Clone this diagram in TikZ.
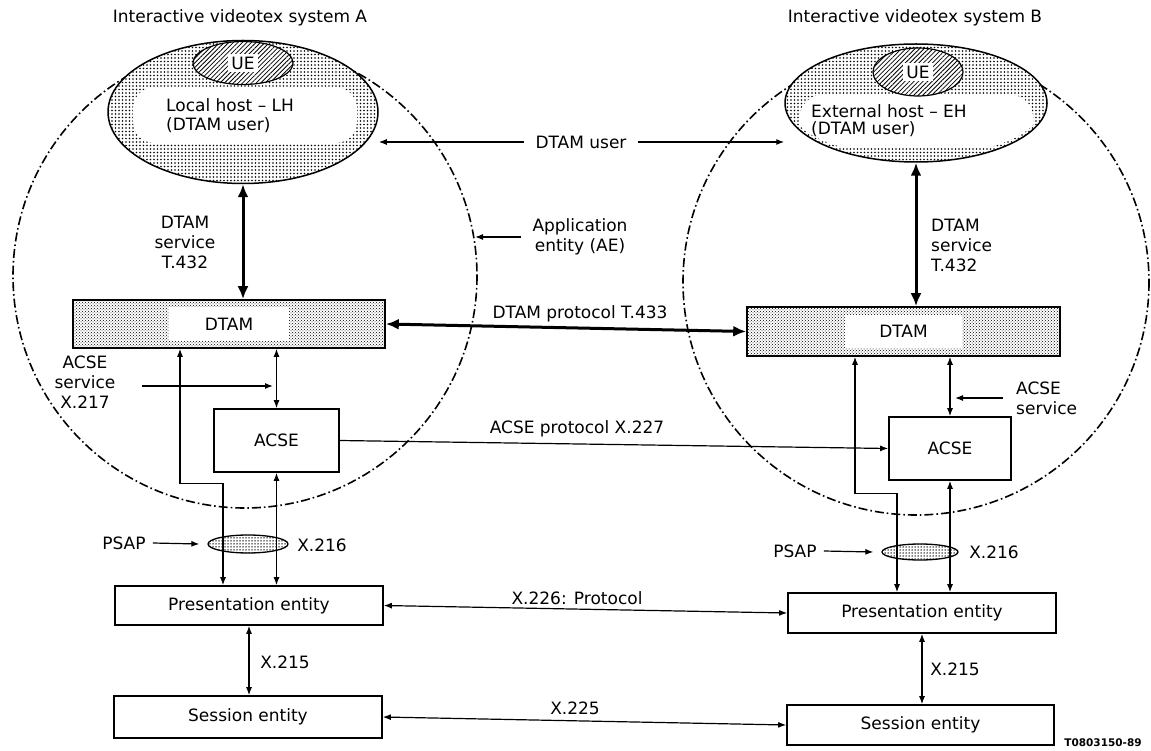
\documentclass[tikz,border=0pt]{standalone}
\usepackage{fontspec}
\setmainfont{DejaVu Sans}
\usetikzlibrary{arrows.meta,patterns,patterns.meta,shapes.geometric}
\begin{document}
\begin{tikzpicture}[x=1pt,y=-1pt,
  font=\fontsize{17}{20}\selectfont,
  aecircle/.style={line width=1.6pt, dash pattern=on 9pt off 3pt on 1.6pt off 3pt},
  hostell/.style={ellipse, draw, line width=1.5pt, preaction={fill=white},
     pattern={Dots[distance=3.5pt, radius=0.85pt]}},
  ueell/.style={ellipse, draw, line width=1.2pt, preaction={fill=white},
     pattern={Lines[angle=45, distance=3.2pt, line width=0.8pt]}},
  dtambox/.style={draw, line width=1.6pt, preaction={fill=white}, pattern=crosshatch dots},
  psapell/.style={ellipse, draw, line width=1.3pt, preaction={fill=white},
     pattern={Dots[distance=3pt, radius=0.75pt]}},
  entbox/.style={draw, line width=1.6pt, fill=white},
  arr/.style={line width=1.2pt, -{Latex[length=8pt,width=6pt]}},
  darr/.style={line width=1.2pt, {Latex[length=8pt,width=6pt]}-{Latex[length=8pt,width=6pt]}},
  tarr/.style={line width=3pt, {Latex[length=13pt,width=11pt]}-{Latex[length=13pt,width=11pt]}},
  lbl/.style={inner sep=1pt}
]
\useasboundingbox (0,0) rectangle (1151,751);

% application entity circles
\draw[aecircle] (245,276) circle[radius=232];
\draw[aecircle] (916,282) circle[radius=233];

% titles
\node[lbl] (titA) at (240,18) {Interactive videotex system A};
\node[lbl] (titB) at (915,18) {Interactive videotex system B};

% hosts
\node[hostell, minimum width=270pt, minimum height=143pt] (LH) at (243,112) {};
\begin{scope}
  \clip (243,116) ellipse[x radius=124, y radius=56];
  \fill[white, rounded corners=22pt] (133,87) rectangle (357,143);
\end{scope}
\node[ueell, minimum width=100pt, minimum height=43pt] (UEA) at (243,63) {};
\node[fill=white, inner sep=3pt] (UEAl) at (UEA.center) {UE};
\node[lbl, anchor=west, align=left, font=\fontsize{17}{19}\selectfont] (LHl) at (165,116) {Local host -- LH\\(DTAM user)};

\node[hostell, minimum width=262pt, minimum height=118pt] (EH) at (916,103) {};
\begin{scope}
  \clip (916,112) ellipse[x radius=122, y radius=44];
  \fill[white, rounded corners=22pt] (800,95) rectangle (1033,148);
\end{scope}
\node[ueell, minimum width=90pt, minimum height=48pt] (UEB) at (918,72) {};
\node[fill=white, inner sep=3pt] (UEBl) at (UEB.center) {UE};
\node[lbl, anchor=west, align=left, font=\fontsize{17}{17}\selectfont] (EHl) at (810,121) {External host -- EH\\(DTAM user)};

% DTAM user / AE labels
\node[lbl] (dtamuser) at (581,142) {DTAM user};
\draw[arr] ([xshift=-10pt]dtamuser.west) -- (dtamuser.west -| LH.east);
\draw[arr] ([xshift=10pt]dtamuser.east) -- (dtamuser.east -| EH.west);
\node[lbl, align=center] (AE) at (580,237) {Application\\entity (AE)};
\coordinate (AEtip) at (475,236);
\draw[arr] ([xshift=-10pt]AE.west) -- (AE.west -| AEtip);

% DTAM boxes
\node[dtambox, minimum width=312pt, minimum height=48pt] (dtamA) at (229,324) {};
\node[fill=white, minimum width=120pt, minimum height=33pt, inner sep=0pt] (dtamAl) at (dtamA.center) {DTAM};
\node[dtambox, minimum width=313pt, minimum height=49pt] (dtamB) at (903.5,331.5) {};
\node[fill=white, minimum width=117pt, minimum height=33pt, inner sep=0pt] (dtamBl) at (dtamB.center) {DTAM};

% DTAM service
\draw[tarr] (LH.south) -- (LH.south |- dtamA.north);
\node[lbl, align=center] (dsA) at (185,242) {DTAM\\service\\T.432};
\draw[tarr] (EH.south) -- (EH.south |- dtamB.north);
\node[lbl, anchor=west, align=left] (dsB) at (930,245) {DTAM\\service\\T.432};

% DTAM protocol
\draw[tarr] (dtamA.east) -- (dtamB.west);
\node[lbl] (dtamprot) at (580,314) {DTAM protocol T.433};

% ACSE boxes
\node[entbox, minimum width=125pt, minimum height=63pt] (acseA) at (276.5,440.5) {ACSE};
\node[entbox, minimum width=122pt, minimum height=63pt] (acseB) at (950,448.5) {ACSE};
\draw[darr] (acseA.north |- dtamA.south) -- (acseA.north);
\draw[darr] (acseB.north |- dtamB.south) -- (acseB.north);
\draw[arr] (acseA.east) -- (acseB.west);
\node[lbl] (acseprot) at (577,429) {ACSE protocol X.227};

% ACSE service labels
\node[lbl, align=center] (acsesA) at (85,382) {ACSE\\service\\X.217};
\coordinate (acsesAfrom) at (142,386);
\coordinate (acsesAto) at (273,386);
\draw[arr] (acsesAfrom) -- (acsesAto);
\node[lbl, anchor=west, align=left] (acsesB) at (1015,398) {ACSE\\service};
\coordinate (acsesBtip) at (955,0);
\draw[arr] ([xshift=-12pt]acsesB.west) -- (acsesB.west -| acsesBtip);

% PSAP ellipses
\node[psapell, minimum width=80pt, minimum height=18pt] (psapA) at (248,544) {};
\node[psapell, minimum width=76pt, minimum height=16pt] (psapB) at (920,552) {};
\node[lbl] (psapAl) at (124,543) {PSAP};
\draw[arr] ([xshift=6pt]psapAl.east) -- ([xshift=-8pt]psapA.west);
\node[lbl] (x216A) at (322,545) {X.216};
\node[lbl] (psapBl) at (795,551) {PSAP};
\draw[arr] ([xshift=6pt]psapBl.east) -- ([xshift=-8pt]psapB.west);
\node[lbl] (x216B) at (994,552) {X.216};

% presentation / session entities
\node[entbox, minimum width=268pt, minimum height=39pt] (peA) at (249,605.5) {Presentation entity};
\node[entbox, minimum width=268pt, minimum height=42pt] (seA) at (248,717) {Session entity};
\node[entbox, minimum width=268pt, minimum height=40pt] (peB) at (922,613) {Presentation entity};
\node[entbox, minimum width=267pt, minimum height=40pt] (seB) at (920.5,725) {Session entity};

% DTAM - presentation direct lines
\draw[darr] ([xshift=-49pt]dtamA.south) -- ++(0,135) -| ([xshift=-26pt]peA.north);
\draw[darr] ([xshift=-48.5pt]dtamB.south) -- ++(0,137) -| ([xshift=-25pt]peB.north);
% ACSE - presentation
\draw[darr] (acseA.south) -- (acseA.south |- peA.north);
\draw[darr] (acseB.south) -- (acseB.south |- peB.north);

% presentation - session
\draw[darr] (peA.south) -- (peA.south |- seA.north);
\node[lbl] (x215A) at (285,662) {X.215};
\draw[darr] (peB.south) -- (peB.south |- seB.north);
\node[lbl] (x215B) at (955,669) {X.215};

% protocols
\draw[darr] (peA.east) -- (peB.west);
\node[lbl] (x226) at (577,598) {X.226: Protocol};
\draw[darr] (seA.east) -- (seB.west);
\node[lbl] (x225) at (575,708) {X.225};

\node[lbl, font=\fontsize{10.5}{12}\bfseries\selectfont] (ref) at (1103,743) {T0803150-89};
\end{tikzpicture}
\end{document}
